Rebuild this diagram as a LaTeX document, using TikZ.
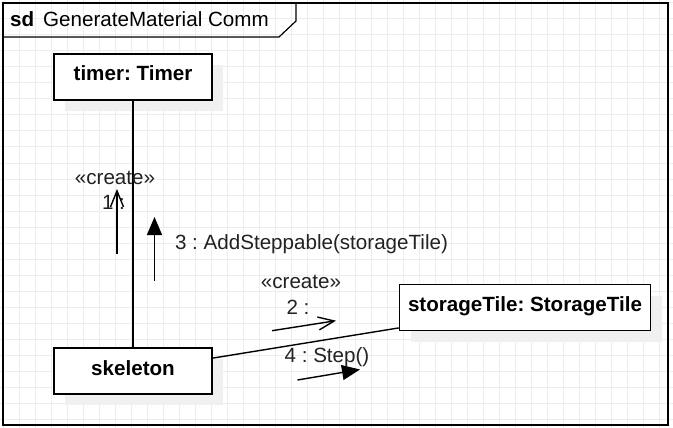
\documentclass[tikz,border=0pt]{standalone}
\usepackage{fontspec}
\setmainfont{Liberation Sans}
\usepackage{xcolor}
\usepackage{tikz}
\usetikzlibrary{arrows.meta,shadows}

\definecolor{gridgray}{HTML}{EDEDED}
\definecolor{labelgray}{HTML}{222222}
\frenchspacing

\begin{document}
\begin{tikzpicture}[x=1pt, y=-1pt, font=\fontsize{20.6}{24}\selectfont,
  obj/.style={draw=black, line width=1.5pt, fill=white, minimum height=46pt, font=\fontsize{20.6}{24}\selectfont\bfseries, text height=14pt, text depth=6pt, general shadow={fill=black!6, shadow xshift=11pt, shadow yshift=-11pt}},
  msglabel/.style={anchor=base, inner sep=0pt, text=labelgray},
  openmsg/.style={line width=1.4pt, -{Straight Barb[length=16pt, width=13pt, line width=1.4pt]}},
  callmsg/.style={line width=1.4pt, -{Triangle[length=18pt, width=15pt]}}]

\useasboundingbox (0,0) rectangle (673,428);
\fill[white] (0,0) rectangle (673,428);
\foreach \k in {0,...,41} \draw[gridgray, line width=1pt] (3+16*\k,0) -- (3+16*\k,428);
\foreach \k in {0,...,26} \draw[gridgray, line width=1pt] (0,3+16*\k) -- (673,3+16*\k);

\draw[line width=1.4pt] (3,3) rectangle (668,425);
\draw[line width=1.2pt] (3,37) -- (279,37) -- (296,21) -- (296,3);
\node[anchor=base west, inner sep=0pt] (sdkey) at (10,26.7) {\textbf{sd}};
\node[anchor=base west, inner sep=0pt] (sdname) at (43,26.7) {GenerateMaterial Comm};

\node[obj, minimum width=158pt] (timer) at (133, 77) {timer: Timer};
\node[obj, minimum width=158pt] (skeleton) at (133, 371) {skeleton};
\node[obj, minimum width=251pt] (storage) at (525, 307.5) {storageTile: StorageTile};

\draw[line width=1.4pt] (timer) -- (skeleton);
\draw[line width=1.4pt] (skeleton) -- (storage);

\coordinate (m1from) at (117, 254);
\coordinate (m1to) at (117, 189);
\coordinate (m2from) at (272, 330.7);
\coordinate (m2to) at (336, 320.7);
\coordinate (m3from) at (154.5, 281);
\coordinate (m3to) at (154.5, 217);
\coordinate (m4from) at (297.5, 380);
\coordinate (m4to) at (360, 369.5);

\draw[openmsg] (m1from) -- (m1to);
\draw[openmsg] (m2from) -- (m2to);
\draw[callmsg] (m3from) -- (m3to);
\draw[callmsg] (m4from) -- (m4to);

\node[msglabel] (create1) at (115, 185) {«create»};
\node[msglabel] (num1) at (113.5, 209) {1 :};
\node[msglabel] (create2) at (301, 288.3) {«create»};
\node[msglabel] (num2) at (298, 314) {2 :};
\node[msglabel] (call3) at (311.5, 249) {3 : AddSteppable(storageTile)};
\node[msglabel] (call4) at (327, 362.7) {4 : Step()};

\end{tikzpicture}
\end{document}
